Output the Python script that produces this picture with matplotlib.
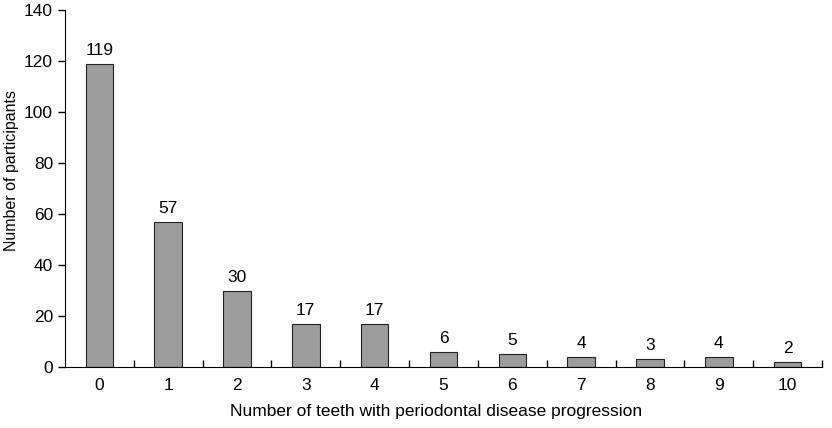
import matplotlib
matplotlib.use("Agg")
import matplotlib.pyplot as plt
import numpy as np

categories = ["0", "1", "2", "3", "4", "5", "6", "7", "8", "9", "10"]
values = [119, 57, 30, 17, 17, 6, 5, 4, 3, 4, 2]

plt.rcParams['font.family'] = ['Liberation Sans', 'DejaVu Sans']
fig = plt.figure(figsize=(8.32, 4.28), dpi=100)
ax = fig.add_axes([0.078, 0.1425, 0.91, 0.834])

x = np.arange(len(categories))
bars = ax.bar(x, values, width=0.4, color='#9c9c9c', edgecolor='#222222', linewidth=0.8)
for xi, v in zip(x, values):
    ax.text(xi, v + 2.3, str(v), ha='center', va='bottom', fontsize=12.5)

ax.set_xlim(-0.5, len(categories) - 0.5)
ax.set_ylim(0, 140)
ax.set_yticks(range(0, 141, 20))
ax.set_xticks(x)
ax.set_xticklabels(categories)
ax.set_xticks(np.arange(0.5, len(categories), 1.0), minor=True)
ax.tick_params(axis='x', which='major', length=0, pad=8, labelsize=12.5)
ax.tick_params(axis='x', which='minor', direction='in', length=5, width=1)
ax.tick_params(axis='y', direction='out', length=5, width=1, labelsize=12.5)
ax.spines['top'].set_visible(False)
ax.spines['right'].set_visible(False)
ax.set_xlabel("Number of teeth with periodontal disease progression", fontsize=12.5, labelpad=7)
ax.xaxis.set_label_coords(0.49, -0.105)
ax.set_ylabel("Number of participants", fontsize=11.5)
ax.yaxis.set_label_coords(-0.06, 0.55)

fig.savefig("out.png", dpi=100)
